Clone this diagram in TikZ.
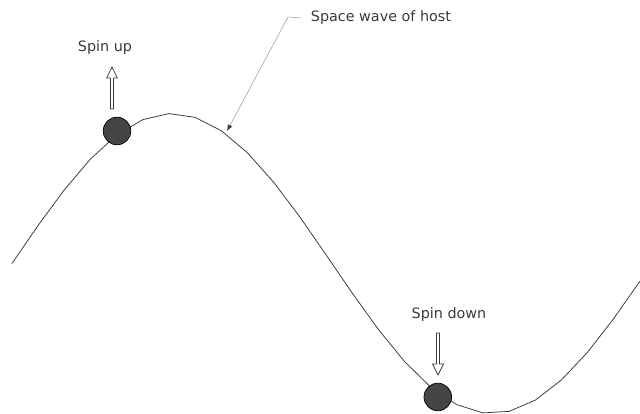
\documentclass[tikz,border=0pt]{standalone}
\usepackage{fontspec}
\setmainfont{DejaVu Sans}
\usetikzlibrary{arrows.meta, positioning}
\definecolor{inkgray}{HTML}{3A3A3A}
\definecolor{ballgray}{HTML}{454545}
\definecolor{leadgray}{HTML}{A0A0A0}

\begin{document}
\begin{tikzpicture}[
			x=0.025cm, y=-0.025cm,
			every node/.style={
				text=inkgray,
				font=\fontsize{10.2}{12}\selectfont,
				inner sep=0pt
			},
			wave/.style={inkgray, line width=0.55pt},
			ball/.style={circle, draw=black, line width=0.5pt, fill=ballgray, minimum size=0.69cm},
			spinbox/.style={draw=inkgray, fill=white, line width=0.5pt, line join=miter},
			leader/.style={-{Latex[length=4.5pt, width=3.5pt, color=inkgray]}, leadgray, line width=0.4pt}
			]
			
			% frame
			\useasboundingbox (0,0) rectangle (640,414);
			
			% the wave
			\draw[wave] plot[domain=12:640, samples=25] (\x, {263.5-150*sin((\x-12)*0.5625)});
			
			% labels
			\node (up) at (105,48) {Spin up};
			\node (down) at (449,315) {Spin down};
			\node[anchor=west] (host) at (310.7,18) {Space wave of host};
			
			% spins on the wave
			\node[ball] (ballA) at (117,131) {};
			\node[ball] (ballB) at (437.8,397) {};
			
			% spin arrows
			\draw[spinbox] (110.5,109) -- (110.5,78) -- (106.7,78) -- (112,67)
				-- (117.3,78) -- (113.5,78) -- (113.5,109) -- cycle;
			\draw[spinbox] (436.5,333) -- (436.5,364) -- (432.5,364) -- (438,375)
				-- (443.5,364) -- (439.5,364) -- (439.5,333) -- cycle;
			
			% leader to the wave
			\coordinate (bend) at (288,17);
			\coordinate (tip) at (227,131);
			\draw[leader] ([xshift=-0.225cm]host.west) -- (bend) -- (tip);
			
		\end{tikzpicture}
\end{document}
